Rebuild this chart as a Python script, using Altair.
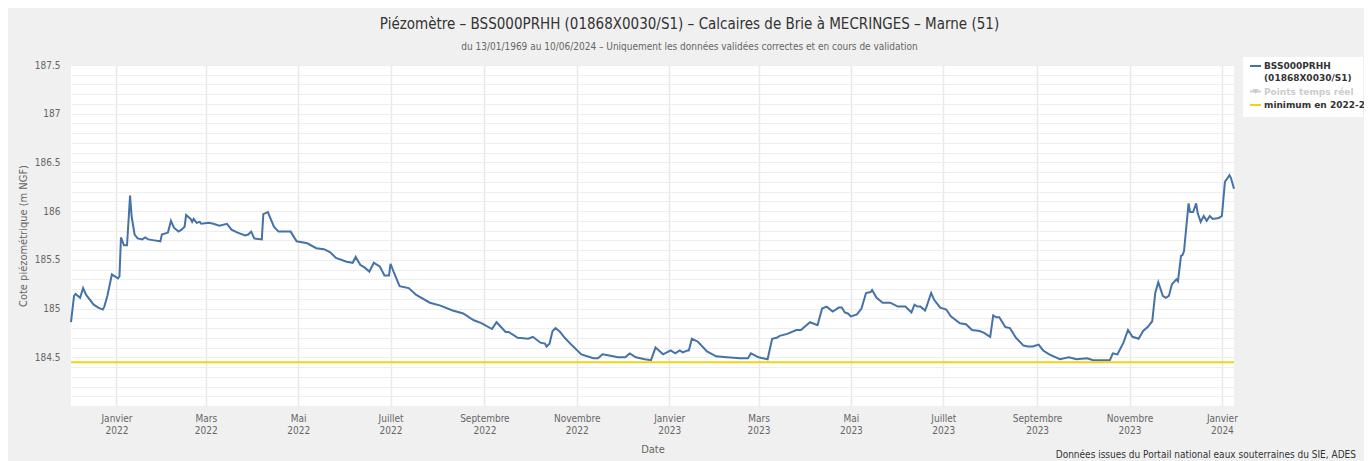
import altair as alt
import pandas as pd

# ---------------- data ----------------
dates = [
    "2021-12-02", "2021-12-04", "2021-12-05", "2021-12-08", "2021-12-10", "2021-12-12",
    "2021-12-17", "2021-12-20", "2021-12-23", "2021-12-24", "2021-12-26", "2021-12-29",
    "2021-12-31", "2022-01-02", "2022-01-03", "2022-01-04", "2022-01-06", "2022-01-08",
    "2022-01-10", "2022-01-11", "2022-01-13", "2022-01-15", "2022-01-18", "2022-01-20",
    "2022-01-22", "2022-01-26", "2022-01-30", "2022-01-31", "2022-02-04", "2022-02-06",
    "2022-02-08", "2022-02-11", "2022-02-13", "2022-02-15", "2022-02-16", "2022-02-19",
    "2022-02-20", "2022-02-21", "2022-02-23", "2022-02-25", "2022-02-26", "2022-03-03",
    "2022-03-06", "2022-03-10", "2022-03-15", "2022-03-18", "2022-03-22", "2022-03-27",
    "2022-03-29", "2022-03-31", "2022-04-02", "2022-04-07", "2022-04-08", "2022-04-11",
    "2022-04-15", "2022-04-18", "2022-04-26", "2022-04-30", "2022-05-07", "2022-05-13",
    "2022-05-18", "2022-05-22", "2022-05-26", "2022-06-02", "2022-06-06", "2022-06-08",
    "2022-06-11", "2022-06-14", "2022-06-17", "2022-06-20", "2022-06-24", "2022-06-27",
    "2022-06-30", "2022-07-01", "2022-07-03", "2022-07-07", "2022-07-13", "2022-07-18",
    "2022-07-27", "2022-08-03", "2022-08-11", "2022-08-18", "2022-08-25", "2022-08-30",
    "2022-09-06", "2022-09-09", "2022-09-15", "2022-09-17", "2022-09-23", "2022-09-30",
    "2022-10-03", "2022-10-08", "2022-10-11", "2022-10-12", "2022-10-14", "2022-10-16",
    "2022-10-18", "2022-10-21", "2022-10-24", "2022-10-29", "2022-11-04", "2022-11-12",
    "2022-11-15", "2022-11-18", "2022-11-25", "2022-11-28", "2022-12-03", "2022-12-06",
    "2022-12-10", "2022-12-16", "2022-12-20", "2022-12-23", "2022-12-28", "2023-01-02",
    "2023-01-05", "2023-01-08", "2023-01-10", "2023-01-13", "2023-01-14", "2023-01-16",
    "2023-01-20", "2023-01-26", "2023-02-01", "2023-02-08", "2023-02-17", "2023-02-22",
    "2023-02-24", "2023-03-01", "2023-03-07", "2023-03-10", "2023-03-13", "2023-03-15",
    "2023-03-20", "2023-03-26", "2023-03-29", "2023-04-04", "2023-04-09", "2023-04-12",
    "2023-04-15", "2023-04-19", "2023-04-23", "2023-04-25", "2023-04-27", "2023-04-29",
    "2023-05-01", "2023-05-05", "2023-05-08", "2023-05-11", "2023-05-14", "2023-05-15",
    "2023-05-18", "2023-05-22", "2023-05-27", "2023-06-01", "2023-06-06", "2023-06-10",
    "2023-06-12", "2023-06-14", "2023-06-16", "2023-06-19", "2023-06-20", "2023-06-23",
    "2023-06-25", "2023-06-29", "2023-07-03", "2023-07-06", "2023-07-12", "2023-07-16",
    "2023-07-20", "2023-07-25", "2023-07-28", "2023-07-31", "2023-08-01", "2023-08-03",
    "2023-08-05", "2023-08-07", "2023-08-11", "2023-08-14", "2023-08-18", "2023-08-23",
    "2023-08-26", "2023-08-29", "2023-09-02", "2023-09-05", "2023-09-09", "2023-09-16",
    "2023-09-22", "2023-09-27", "2023-10-04", "2023-10-08", "2023-10-12", "2023-10-19",
    "2023-10-21", "2023-10-24", "2023-10-28", "2023-10-31", "2023-11-03", "2023-11-07",
    "2023-11-10", "2023-11-13", "2023-11-16", "2023-11-18", "2023-11-20", "2023-11-23",
    "2023-11-25", "2023-11-27", "2023-11-29", "2023-12-02", "2023-12-03", "2023-12-05",
    "2023-12-06", "2023-12-07", "2023-12-10", "2023-12-11", "2023-12-13", "2023-12-15",
    "2023-12-16", "2023-12-18", "2023-12-20", "2023-12-22", "2023-12-24", "2023-12-26",
    "2023-12-30", "2024-01-01", "2024-01-03", "2024-01-06", "2024-01-07", "2024-01-09",
]
levels = [
    184.86, 185.13, 185.15, 185.11, 185.21, 185.14,
    185.04, 185.01, 184.99, 185.02, 185.13, 185.35,
    185.33, 185.31, 185.33, 185.73, 185.65, 185.65,
    186.16, 185.95, 185.76, 185.72, 185.71, 185.73,
    185.71, 185.70, 185.69, 185.76, 185.78, 185.90,
    185.83, 185.79, 185.81, 185.84, 185.96, 185.92,
    185.89, 185.92, 185.88, 185.89, 185.87, 185.88,
    185.87, 185.85, 185.87, 185.81, 185.78, 185.75,
    185.76, 185.79, 185.72, 185.71, 185.97, 185.99,
    185.84, 185.79, 185.79, 185.69, 185.67, 185.62,
    185.61, 185.58, 185.52, 185.48, 185.47, 185.53,
    185.45, 185.42, 185.38, 185.47, 185.43, 185.34,
    185.34, 185.46, 185.38, 185.23, 185.21, 185.14,
    185.06, 185.03, 184.98, 184.95, 184.88, 184.85,
    184.79, 184.86, 184.76, 184.76, 184.70, 184.69,
    184.71, 184.65, 184.64, 184.61, 184.64, 184.77,
    184.80, 184.76, 184.70, 184.62, 184.53, 184.49,
    184.49, 184.53, 184.51, 184.50, 184.50, 184.54,
    184.50, 184.48, 184.47, 184.60, 184.53, 184.57,
    184.54, 184.57, 184.55, 184.57, 184.57, 184.69,
    184.66, 184.56, 184.51, 184.50, 184.49, 184.49,
    184.54, 184.50, 184.48, 184.69, 184.70, 184.72,
    184.74, 184.78, 184.78, 184.86, 184.83, 185.00,
    185.02, 184.97, 185.01, 185.01, 184.96, 184.95,
    184.92, 184.94, 185.00, 185.16, 185.17, 185.19,
    185.11, 185.06, 185.06, 185.02, 185.02, 184.96,
    185.04, 185.02, 185.02, 184.98, 185.02, 185.16,
    185.09, 185.01, 184.99, 184.92, 184.85, 184.84,
    184.78, 184.77, 184.75, 184.72, 184.71, 184.93,
    184.91, 184.91, 184.81, 184.80, 184.70, 184.62,
    184.61, 184.61, 184.63, 184.57, 184.53, 184.48,
    184.50, 184.48, 184.49, 184.47, 184.47, 184.47,
    184.54, 184.53, 184.65, 184.78, 184.71, 184.69,
    184.77, 184.81, 184.87, 185.16, 185.27, 185.13,
    185.11, 185.13, 185.25, 185.30, 185.28, 185.54,
    185.55, 185.59, 186.08, 185.99, 185.99, 186.08,
    185.98, 185.89, 185.95, 185.90, 185.95, 185.92,
    185.93, 185.95, 186.30, 186.37, 186.34, 186.23,
]
minimum_level = [184.45]

tick_dates = [(2022, 1), (2022, 3), (2022, 5), (2022, 7), (2022, 9), (2022, 11),
              (2023, 1), (2023, 3), (2023, 5), (2023, 7), (2023, 9), (2023, 11),
              (2024, 1)]
months_fr = ["Janvier", "Février", "Mars", "Avril", "Mai", "Juin", "Juillet",
             "Août", "Septembre", "Octobre", "Novembre", "Décembre"]
y_grid_values = [round(184.1 + 0.1 * i, 1) for i in range(35)]  # 184.1 .. 187.5

title_text = "Piézomètre – BSS000PRHH (01868X0030/S1) – Calcaires de Brie à MECRINGES – Marne (51)"
subtitle_text = "du 13/01/1969 au 10/06/2024 – Uniquement les données validées correctes et en cours de validation"
legend_series = ["BSS000PRHH", "(01868X0030/S1)"]
legend_points = "Points temps réel"
legend_min = "minimum en 2022-2024"
credit_text = "Données issues du Portail national eaux souterraines du SIE, ADES"

NARROW = "Liberation Sans Narrow, DejaVu Sans Condensed, Arial Narrow, sans-serif"
LEGEND_FONT = "DejaVu Sans, Verdana, sans-serif"
BLUE = "#4572a7"
YELLOW = "#f2d30f"

df = pd.DataFrame({"date": [d + "T00:00:00" for d in dates], "level": levels})
df_min = pd.DataFrame({"level": minimum_level})
one = pd.DataFrame({"k": [0]})

x_domain = [alt.DateTime(year=2021, month=12, date=2), alt.DateTime(year=2024, month=1, date=9)]
y_domain = [184, 187.5]

month_array = "[" + ",".join("'" + m + "'" for m in months_fr) + "]"
x_label_expr = "[" + month_array + "[month(datum.value)], '' + year(datum.value)]"

x_axis = alt.Axis(
    values=[alt.DateTime(year=y, month=m, date=1) for y, m in tick_dates],
    labelExpr=x_label_expr,
    title="Date",
    grid=True, gridColor="#e9e9e9", gridWidth=1.5,
    domain=False, ticks=False,
    labelFont=NARROW, labelFontSize=10, labelColor="#666666",
    labelLineHeight=12, labelPadding=7, labelOverlap=False,
    titleFont=NARROW, titleFontSize=11, titleColor="#666666", titleFontWeight="normal",
    titlePadding=8,
)
y_axis = alt.Axis(
    values=y_grid_values,
    labelExpr="(round(datum.value*10) % 5 == 0) ? format(datum.value, '~g') : ''",
    title="Cote piézométrique (m NGF)",
    grid=True, gridColor="#eeeeee", gridWidth=1,
    domain=False, ticks=False,
    labelFont=NARROW, labelFontSize=10, labelColor="#666666",
    labelPadding=11, labelOverlap=False,
    titleFont=NARROW, titleFontSize=11, titleColor="#666666", titleFontWeight="normal",
    titlePadding=6,
)
y_scale = alt.Scale(domain=y_domain, nice=False, zero=False)

line = alt.Chart(df).mark_line(color=BLUE, strokeWidth=2).encode(
    x=alt.X("date:T", scale=alt.Scale(domain=x_domain, nice=False), axis=x_axis),
    y=alt.Y("level:Q", scale=y_scale, axis=y_axis),
)

min_rule = alt.Chart(df_min).mark_rule(color=YELLOW, strokeWidth=2).encode(
    y=alt.Y("level:Q", scale=y_scale, axis=y_axis),
)

# ---- legend box (decoration) ----
legend_bg = alt.Chart(one).mark_rect(fill="white").encode(
    x=alt.value(1172), x2=alt.value(1292), y=alt.value(-8), y2=alt.value(52)
)
leg_line1 = alt.Chart(one).mark_rule(color=BLUE, strokeWidth=2).encode(
    x=alt.value(1179), x2=alt.value(1190), y=alt.value(1)
)
leg_txt1 = alt.Chart(one).mark_text(
    text=legend_series, align="left", baseline="middle", font=LEGEND_FONT,
    fontSize=9, fontWeight="bold", color="#333333", lineHeight=12
).encode(x=alt.value(1193), y=alt.value(1))
leg_line2 = alt.Chart(one).mark_rule(color="#cccccc", strokeWidth=2).encode(
    x=alt.value(1179), x2=alt.value(1190), y=alt.value(26.5)
)
leg_tri = alt.Chart(one).mark_point(
    shape="triangle-down", filled=True, color="#cccccc", size=35, opacity=1
).encode(x=alt.value(1184.5), y=alt.value(26.5))
leg_txt2 = alt.Chart(one).mark_text(
    text=legend_points, align="left", baseline="middle", font=LEGEND_FONT,
    fontSize=9, fontWeight="bold", color="#cccccc"
).encode(x=alt.value(1193), y=alt.value(26.5))
leg_line3 = alt.Chart(one).mark_rule(color=YELLOW, strokeWidth=2).encode(
    x=alt.value(1179), x2=alt.value(1190), y=alt.value(40)
)
leg_txt3 = alt.Chart(one).mark_text(
    text=legend_min, align="left", baseline="middle", font=LEGEND_FONT,
    fontSize=9, fontWeight="bold", color="#333333"
).encode(x=alt.value(1193), y=alt.value(40))

credit = alt.Chart(one).mark_text(
    text=credit_text, align="right", baseline="bottom", font=NARROW,
    fontSize=10, color="#333333"
).encode(x=alt.value(1285), y=alt.value(395))

chart = alt.layer(
    line, min_rule, legend_bg, leg_line1, leg_txt1, leg_line2, leg_tri, leg_txt2,
    leg_line3, leg_txt3, credit,
).properties(
    width=1163,
    height=341,
    title=alt.TitleParams(
        text=title_text, subtitle=subtitle_text,
        anchor="middle", frame="group", dx=37, offset=5,
        font=NARROW, fontSize=15, fontWeight="normal", color="#333333",
        subtitleFont=NARROW, subtitleFontSize=10, subtitleColor="#666666",
        subtitlePadding=10,
    ),
    autosize=alt.AutoSizeParams(type="none"),
    padding={"left": 63, "top": 57, "right": 130, "bottom": 55},
    background="#f0f0f0",
).configure_view(
    fill="white", stroke=None
)

chart.save("out.html", embed_options={"renderer": "svg", "actions": False})
